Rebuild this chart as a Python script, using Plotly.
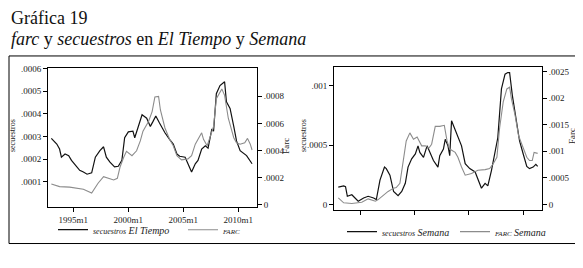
import plotly.graph_objects as go

# ---------------- data ----------------
tiempo_sec_dates = ["1993-01","1993-07","1993-10","1993-12","1994-04","1994-08","1994-11","1995-05",
    "1995-08","1995-12","1996-04","1996-09","1997-01","1997-06","1997-10","1998-01","1998-05","1998-10",
    "1999-02","1999-06","1999-09","2000-01","2000-06","2000-08","2000-12","2001-04","2001-09","2002-01",
    "2002-04","2002-07","2002-11","2003-05","2003-10","2004-02","2004-06","2004-09","2005-03","2005-06",
    "2005-10","2006-02","2006-05","2006-09","2007-01","2007-04","2007-08","2007-10","2008-01","2008-05",
    "2008-10","2008-12","2009-04","2009-08","2009-11","2010-03","2010-06","2010-10","2011-04"]
tiempo_sec = [0.000291,0.000266,0.000244,0.000208,0.000222,0.000215,0.000194,0.000165,
    0.000150,0.000143,0.000133,0.000139,0.000208,0.000237,0.000254,0.000208,0.000186,0.000165,
    0.000168,0.000194,0.000294,0.000320,0.000323,0.000294,0.000344,0.000395,0.000380,0.000344,
    0.000366,0.000390,0.000359,0.000316,0.000287,0.000266,0.000222,0.000212,0.000208,0.000179,
    0.000143,0.000179,0.000194,0.000244,0.000258,0.000248,0.000330,0.000323,0.000488,0.000524,
    0.000541,0.000452,0.000423,0.000344,0.000280,0.000237,0.000229,0.000215,0.000179]

tiempo_farc_dates = ["1993-01","1993-10","1994-09","1995-05","1995-12","1996-09","1997-04","1997-10",
    "1998-03","1998-09","1999-01","1999-04","1999-08","1999-11","2000-05","2000-10","2001-02","2001-05",
    "2001-11","2002-03","2002-06","2002-10","2002-12","2003-05","2003-10","2004-02","2004-06","2004-11",
    "2005-06","2005-10","2006-02","2006-05","2006-09","2006-11","2007-03","2007-06","2007-10","2008-01",
    "2008-07","2008-10","2009-02","2009-08","2009-11","2010-03","2010-08","2010-11","2011-02","2011-04"]
tiempo_farc = [0.000152,0.000132,0.000128,0.000121,0.000113,0.000085,0.000157,0.000205,
    0.000193,0.000181,0.000193,0.000277,0.000349,0.000393,0.000361,0.000397,0.000470,0.000542,
    0.000614,0.000687,0.000795,0.000800,0.000699,0.000566,0.000482,0.000434,0.000361,0.000330,
    0.000337,0.000361,0.000446,0.000482,0.000530,0.000482,0.000434,0.000494,0.000578,0.000783,
    0.000855,0.000807,0.000638,0.000494,0.000457,0.000446,0.000457,0.000489,0.000446,0.000403]

semana_sec_dates = ["1993-01","1993-07","1993-09","1993-11","1994-04","1994-07","1994-11","1995-05",
    "1995-10","1996-04","1996-07","1996-11","1997-04","1997-06","1997-10","1998-02","1998-07","1998-11",
    "1999-03","1999-06","1999-10","2000-02","2000-05","2000-07","2000-11","2001-03","2001-06","2001-10",
    "2002-03","2002-05","2002-09","2002-11","2003-02","2003-04","2003-06","2003-10","2004-01","2004-05",
    "2004-09","2005-02","2005-08","2005-11","2006-03","2006-07","2006-10","2007-02","2007-06","2007-09",
    "2008-01","2008-05","2008-08","2008-10","2009-01","2009-06","2009-09","2010-01","2010-05","2010-08",
    "2010-12","2011-03","2011-05"]
semana_sec = [0.000148,0.000158,0.000152,0.000071,0.000084,0.000057,0.000030,0.000057,
    0.000071,0.000057,0.000043,0.000207,0.000316,0.000303,0.000248,0.000111,0.000076,0.000111,
    0.000180,0.000316,0.000385,0.000426,0.000494,0.000439,0.000398,0.000494,0.000439,0.000371,
    0.000316,0.000412,0.000467,0.000549,0.000494,0.000412,0.000705,0.000631,0.000576,0.000494,
    0.000344,0.000303,0.000275,0.000221,0.000139,0.000180,0.000158,0.000289,0.000453,0.000562,
    0.000972,0.001095,0.001109,0.001109,0.000918,0.000672,0.000535,0.000426,0.000322,0.000303,
    0.000316,0.000339,0.000322]

semana_farc_dates = ["1993-01","1993-07","1994-04","1995-03","1995-10","1996-06","1996-09","1997-03",
    "1997-08","1998-02","1998-05","1998-09","1999-01","1999-04","1999-08","1999-12","2000-04","2000-09",
    "2001-01","2001-05","2001-08","2001-12","2002-05","2002-10","2003-01","2003-04","2003-10","2004-01",
    "2004-05","2004-09","2005-04","2005-11","2006-07","2006-12","2007-04","2007-08","2007-11","2008-03",
    "2008-07","2008-10","2008-12","2009-04","2009-08","2010-01","2010-05","2010-08","2010-11","2011-01",
    "2011-05"]
semana_farc = [0.000123,0.000031,0.000018,0.000042,0.000105,0.000061,0.000092,0.000184,
    0.000245,0.000307,0.000318,0.000399,0.000827,0.001195,0.001347,0.001226,0.001268,0.001103,
    0.001103,0.001060,0.001134,0.001470,0.001470,0.001489,0.001195,0.001042,0.000980,0.000888,
    0.000704,0.000551,0.000583,0.000643,0.000656,0.000675,0.000766,0.000888,0.001439,0.001930,
    0.002174,0.002206,0.001990,0.001685,0.001287,0.001072,0.000888,0.000827,0.000827,0.000980,
    0.000961]

x_tick_vals = ["1995-01-01", "2000-01-01", "2005-01-01", "2010-01-01"]
x_tick_text = ["1995m1", "2000m1", "2005m1", "2010m1"]
y1_tick_vals = [0.0001, 0.0002, 0.0003, 0.0004, 0.0005, 0.0006]
y1_tick_text = [".0001", ".0002", ".0003", ".0004", ".0005", ".0006"]
y2_tick_vals = [0, 0.0002, 0.0004, 0.0006, 0.0008]
y2_tick_text = ["0", ".0002", ".0004", ".0006", ".0008"]
y3_tick_vals = [0, 0.0005, 0.001]
y3_tick_text = ["0", ".0005", ".001"]
y4_tick_vals = [0, 0.0005, 0.001, 0.0015, 0.002, 0.0025]
y4_tick_text = ["0", ".0005", ".001", ".0015", ".002", ".0025"]

# ---------------- style ----------------
SERIF = "Liberation Serif"
BLACK = "#111111"
GRAY = "#8c8c8c"
TXT = "#222222"
# the page body has an 8px margin, so the figure is drawn 8px in from the window corner
OFF = 8
W, H = 583 - OFF, 268 - OFF

def px(x):
    return (x - OFF) / W

def py(y):
    return 1 - (y - OFF) / H

fig = go.Figure()

fig.add_trace(go.Scatter(x=tiempo_sec_dates, y=tiempo_sec, mode="lines",
    line=dict(color=BLACK, width=1.2),
    name="<i><span style='font-size:8px'>secuestros</span> El Tiempo</i>",
    xaxis="x", yaxis="y", legend="legend"))
fig.add_trace(go.Scatter(x=tiempo_farc_dates, y=tiempo_farc, mode="lines",
    line=dict(color=GRAY, width=1.1), name="<i><span style='font-size:7px'>FARC</span></i>",
    xaxis="x", yaxis="y2", legend="legend"))
fig.add_trace(go.Scatter(x=semana_sec_dates, y=semana_sec, mode="lines",
    line=dict(color=BLACK, width=1.2),
    name="<i><span style='font-size:8px'>secuestros</span> Semana</i>",
    xaxis="x2", yaxis="y3", legend="legend2"))
fig.add_trace(go.Scatter(x=semana_farc_dates, y=semana_farc, mode="lines",
    line=dict(color=GRAY, width=1.1), name="<i><span style='font-size:7px'>FARC</span> Semana</i>",
    xaxis="x2", yaxis="y4", legend="legend2"))

tickfont = dict(family=SERIF, size=9, color=TXT)
common_x = dict(type="date", showgrid=False, zeroline=False, showline=True, linecolor="black",
    linewidth=1, mirror=True, ticks="outside", ticklen=4, tickcolor="black",
    tickvals=x_tick_vals, tickfont=tickfont)
common_y = dict(showgrid=False, zeroline=False, showline=True, linecolor="black", linewidth=1,
    ticks="outside", ticklen=4, tickcolor="black", tickfont=tickfont)

def axis_title(text, x, y, size):
    return dict(text=text, xref="paper", yref="paper", x=px(x), y=py(y), textangle=-90,
                showarrow=False, xanchor="center", yanchor="middle",
                font=dict(family=SERIF, size=size, color=TXT))

fig.update_layout(
    width=W, height=H, margin=dict(l=0, r=0, t=0, b=0),
    paper_bgcolor="white", plot_bgcolor="white", showlegend=True,
    xaxis=dict(common_x, domain=[px(48), px(257)], range=["1992-09-12", "2011-09-12"],
               ticktext=x_tick_text, anchor="y"),
    yaxis=dict(common_y, domain=[py(208), py(65)], range=[-0.0000134, 0.000603],
               tickvals=y1_tick_vals, ticktext=y1_tick_text, anchor="x"),
    yaxis2=dict(common_y, overlaying="y", side="right", anchor="x", range=[-0.0000217, 0.001012],
               tickvals=y2_tick_vals, ticktext=y2_tick_text),
    xaxis2=dict(common_x, domain=[px(334), px(542)], range=["1992-08-10", "2011-09-24"],
                ticktext=["", "", "", ""], anchor="y3"),
    yaxis3=dict(common_y, domain=[py(211), py(64)], range=[-0.0000467, 0.001158],
               tickvals=y3_tick_vals, ticktext=y3_tick_text, anchor="x2"),
    yaxis4=dict(common_y, overlaying="y3", side="right", anchor="x2", range=[-0.00011, 0.002592],
               tickvals=y4_tick_vals, ticktext=y4_tick_text),
    legend=dict(orientation="h", x=px(53), y=py(216), xanchor="left", yanchor="top",
                font=dict(family=SERIF, size=10, color=TXT), bgcolor="rgba(0,0,0,0)",
                entrywidth=85, entrywidthmode="pixels", itemwidth=30),
    legend2=dict(orientation="h", x=px(342), y=py(218), xanchor="left", yanchor="top",
                font=dict(family=SERIF, size=10, color=TXT), bgcolor="rgba(0,0,0,0)",
                entrywidth=68, entrywidthmode="pixels", itemwidth=30),
    shapes=[dict(type="rect", xref="paper", yref="paper", x0=px(9), x1=px(577), y0=py(245), y1=py(53),
                 line=dict(color="black", width=1), fillcolor="rgba(0,0,0,0)", layer="below")],
    annotations=[
        dict(text="Gráfica 19", xref="paper", yref="paper", x=px(10), y=py(3), xanchor="left",
             yanchor="top", showarrow=False, borderpad=0,
             font=dict(family=SERIF, size=18, color="#111")),
        dict(text="<i>farc</i> y <i>secuestros</i> en <i>El Tiempo</i> y <i>Semana</i>",
             xref="paper", yref="paper", x=px(10), y=py(24), xanchor="left", yanchor="top",
             showarrow=False, borderpad=0, font=dict(family=SERIF, size=18, color="#111")),
        axis_title("secuestros", 12, 135, 8),
        axis_title("Farc", 286, 145, 9),
        axis_title("secuestros", 303, 135, 8),
        axis_title("Farc", 572, 135, 9),
    ],
)

fig.write_html("out.html")
